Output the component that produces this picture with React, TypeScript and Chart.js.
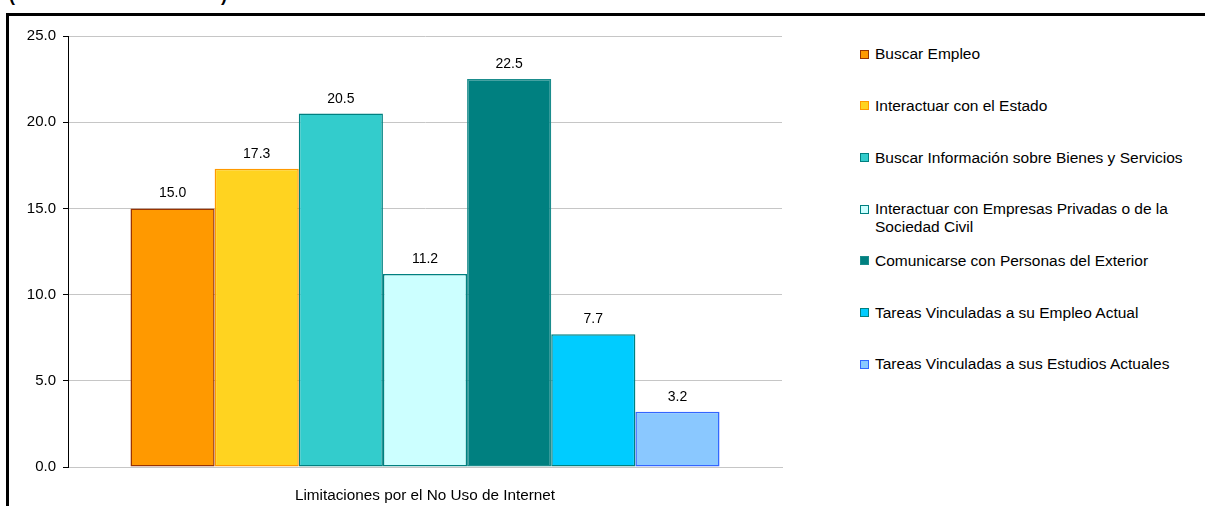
import React, { useEffect, useRef } from "react";
import { Chart, registerables } from "chart.js";

Chart.register(...registerables);

const categories = ["Limitaciones por el No Uso de Internet"];
const seriesLabels = [
  "Buscar Empleo",
  "Interactuar con el Estado",
  "Buscar Información sobre Bienes y Servicios",
  "Interactuar con Empresas Privadas o de la\nSociedad Civil",
  "Comunicarse con Personas del Exterior",
  "Tareas Vinculadas a su Empleo Actual",
  "Tareas Vinculadas a sus Estudios Actuales",
];
const seriesValues = [15.0, 17.3, 20.5, 11.2, 22.5, 7.7, 3.2];
const fillColors = ["#FF9900", "#FFD320", "#33CCCC", "#CCFFFF", "#008080", "#00CCFF", "#8AC8FF"];
const borderColors = ["#993300", "#FF9900", "#008080", "#008080", "#1A8C8C", "#008080", "#3366FF"];
const yTicks = [0, 5, 10, 15, 20, 25];

const FONT = "'Liberation Sans', Arial, sans-serif";

const valueLabels = {
  id: "valueLabels",
  afterDatasetsDraw(chart: any) {
    const ctx = chart.ctx;
    ctx.save();
    ctx.font = `14px ${FONT}`;
    ctx.fillStyle = "#000";
    ctx.textAlign = "center";
    ctx.textBaseline = "alphabetic";
    chart.data.datasets.forEach((ds: any, i: number) => {
      const meta = chart.getDatasetMeta(i);
      meta.data.forEach((el: any, j: number) => {
        const v = Number(ds.data[j]);
        ctx.fillText(v.toFixed(1), el.x, el.y - 11);
      });
    });
    ctx.restore();
  },
};

export default function App() {
  const ref = useRef<HTMLCanvasElement | null>(null);

  useEffect(() => {
    if (!ref.current) return;
    const chart = new Chart(ref.current, {
      type: "bar",
      data: {
        labels: categories,
        datasets: seriesLabels.map((label, i) => ({
          label,
          data: [seriesValues[i]],
          backgroundColor: fillColors[i],
          borderColor: borderColors[i],
          borderWidth: 1.5,
          borderSkipped: false,
        })),
      },
      options: {
        animation: false,
        responsive: false,
        maintainAspectRatio: false,
        layout: { padding: { top: 36, right: 8, bottom: 0, left: 0 } },
        datasets: { bar: { categoryPercentage: 0.825, barPercentage: 1 } },
        plugins: { legend: { display: false }, tooltip: { enabled: false } },
        scales: {
          x: {
            grid: { display: false, drawTicks: false },
            border: { display: true, color: "#c6c6c6" },
            ticks: { color: "#000", font: { family: FONT, size: 15.3 }, padding: 20 },
            afterFit: (s: any) => {
              s.height = 39;
            },
          },
          y: {
            min: 0,
            max: 25,
            afterBuildTicks: (s: any) => {
              s.ticks = yTicks.map((v) => ({ value: v }));
            },
            ticks: {
              color: "#000",
              font: { family: FONT, size: 15 },
              padding: 7,
              callback: (v: any) => Number(v).toFixed(1),
            },
            grid: { color: "#c6c6c6", tickColor: "#000", tickLength: 5, drawTicks: true },
            border: { color: "#000" },
            afterFit: (s: any) => {
              s.width = 68;
            },
          },
        },
      },
      plugins: [valueLabels],
    } as any);
    return () => chart.destroy();
  }, []);

  return (
    <div
      style={{
        position: "absolute",
        left: 0,
        top: 0,
        width: 1205,
        height: 506,
        overflow: "hidden",
        background: "#fff",
        fontFamily: FONT,
      }}
    >
      <div
        style={{
          position: "absolute",
          left: 9,
          top: -14,
          font: `bold 18px ${FONT}`,
          lineHeight: "18px",
          whiteSpace: "pre",
          color: "#000",
        }}
      >
        (<span style={{ display: "inline-block", width: 206 }} />)
      </div>
      <div style={{ position: "absolute", left: 6, top: 13, width: 3, height: 493, background: "#000" }} />
      <div style={{ position: "absolute", left: 6, top: 13, width: 1199, height: 3, background: "#000" }} />
      <canvas
        ref={ref}
        width={790}
        height={506}
        style={{ position: "absolute", left: 0, top: 0, width: 790, height: 506 }}
      />
      {seriesLabels.map((label, i) => {
        const cy = 54 + i * 51.7;
        return (
          <div key={label}>
            <div
              style={{
                position: "absolute",
                left: 860,
                top: cy - 4.5,
                width: 7,
                height: 7,
                background: fillColors[i],
                border: `1px solid ${borderColors[i]}`,
              }}
            />
            <div
              style={{
                position: "absolute",
                left: 875,
                top: cy - 8.75,
                fontSize: 15.5,
                lineHeight: "17.5px",
                whiteSpace: "pre",
                color: "#000",
              }}
            >
              {label}
            </div>
          </div>
        );
      })}
    </div>
  );
}
